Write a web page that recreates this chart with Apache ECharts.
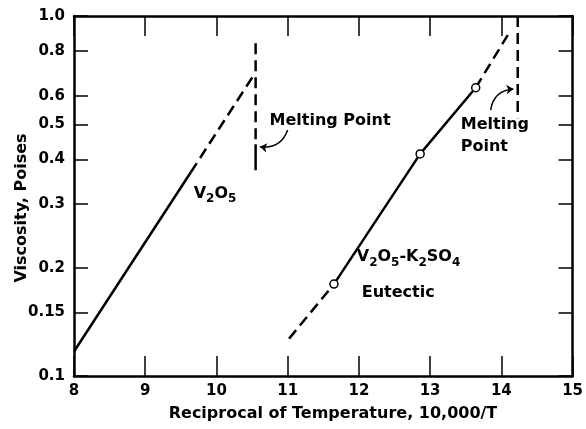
<!DOCTYPE html>
<html>
<head>
<meta charset="utf-8">
<script src="https://cdn.jsdelivr.net/npm/echarts@6/dist/echarts.min.js"></script>
<style>
  html, body { margin: 0; padding: 0; background: #fff; }
  #chart { width: 586px; height: 429px; }
</style>
</head>
<body>
<div id="chart"></div>
<script>
// axis ticks
const xMin = 8
const xMax = 15
const yTicks = [0.1, 0.15, 0.2, 0.3, 0.4, 0.5, 0.6, 0.8, 1.0]
const yLabels = ['0.1', '0.15', '0.2', '0.3', '0.4', '0.5', '0.6', '0.8', '1.0']

// V2O5: solid run, dashed run up to the melting point
const v2o5Solid = [[8, 0.117], [9.64, 0.368]]
const v2o5Dashed = [[9.64, 0.368], [10.54, 0.693]]
const v2o5MeltDashed = [[10.55, 0.84], [10.55, 0.44]]
const v2o5MeltSolid = [[10.55, 0.44], [10.55, 0.373]]

// V2O5-K2SO4 eutectic
const eutLowDashed = [[11.02, 0.127], [11.65, 0.18]]
const eutSolid = [[11.65, 0.18], [12.86, 0.414], [13.64, 0.632]]
const eutHighDashed = [[13.64, 0.632], [14.09, 0.885]]
const eutPoints = [[11.65, 0.18], [12.86, 0.414], [13.64, 0.632]]
const eutMelt = [[14.23, 1.0], [14.23, 0.52]]

// curved pointer arrows, [from, to]
const arrows = [
  [[11.0, 0.482], [10.61, 0.433]],
  [[13.85, 0.548], [14.17, 0.627]],
]

// text notes
const noteX = [9.68, 10.745, 13.43, 11.97, 12.04]
const noteY = [0.31, 0.511, 0.464, 0.2065, 0.1704]
const noteText = [
  '{n|V}{s|2}{n|O}{s|5}',
  'Melting Point',
  'Melting\nPoint',
  '{n|V}{s|2}{n|O}{s|5}{n|-K}{s|2}{n|SO}{s|4}',
  'Eutectic',
]

const font = 'DejaVu Sans'
const black = '#000'

function yLabel(v) {
  let best = 0
  yTicks.forEach((t, i) => { if (Math.abs(t - v) < Math.abs(yTicks[best] - v)) best = i })
  return yLabels[best]
}

function seg(data, dashed) {
  return {
    type: 'line', data, symbol: 'none', silent: true, z: 3,
    lineStyle: { color: black, width: 2.5, type: dashed ? [11, 6] : 'solid' },
  }
}

const chart = echarts.init(document.getElementById('chart'))

const xBase = {
  type: 'value', min: xMin, max: xMax, interval: 1,
  axisLine: { show: true, onZero: false, lineStyle: { color: black, width: 2.5 } },
  axisTick: { inside: true, length: 20, lineStyle: { color: black, width: 1.5 } },
  splitLine: { show: false },
}
const yBase = {
  type: 'log', logBase: 10, min: 0.1, max: 1,
  axisLine: { show: true, onZero: false, lineStyle: { color: black, width: 2.5 } },
  axisTick: { inside: true, length: 14, customValues: yTicks, lineStyle: { color: black, width: 1.5 } },
  minorTick: { show: false },
  splitLine: { show: false },
}

chart.setOption({
  animation: false,
  backgroundColor: '#fff',
  grid: { left: 74, right: 8, top: 16, bottom: 53 },
  xAxis: [
    { ...xBase, position: 'bottom',
      axisLabel: { color: black, fontSize: 15, fontWeight: 'bold', fontFamily: font, margin: 8 } },
    { ...xBase, position: 'top', axisLabel: { show: false } },
  ],
  yAxis: [
    { ...yBase, position: 'left',
      axisLabel: { customValues: yTicks, formatter: yLabel, color: black, fontSize: 15, fontWeight: 'bold', fontFamily: font, margin: 9 } },
    { ...yBase, position: 'right', axisLabel: { show: false } },
  ],
  graphic: [
    { type: 'text', x: 333, y: 414,
      style: { text: 'Reciprocal of Temperature, 10,000/T', fill: black, font: 'bold 16px ' + font, align: 'center', verticalAlign: 'middle' } },
    { type: 'text', x: 22, y: 208, rotation: Math.PI / 2,
      style: { text: 'Viscosity, Poises', fill: black, font: 'bold 16px ' + font, align: 'center', verticalAlign: 'middle' } },
  ],
  series: [
    seg(v2o5Solid, false),
    seg(v2o5Dashed, true),
    seg(v2o5MeltDashed, true),
    seg(v2o5MeltSolid, false),
    seg(eutLowDashed, true),
    seg(eutSolid, false),
    seg(eutHighDashed, true),
    seg(eutMelt, true),
    {
      type: 'scatter', data: eutPoints, symbol: 'circle', symbolSize: 8, z: 5, silent: true,
      itemStyle: { color: '#fff', borderColor: black, borderWidth: 1.5, opacity: 1 },
    },
    {
      type: 'lines', coordinateSystem: 'cartesian2d', silent: true, z: 4,
      data: arrows.map(a => ({ coords: a })),
      symbol: ['none', 'arrow'], symbolSize: 7,
      lineStyle: { color: black, width: 1.5, curveness: 0.4, opacity: 1 },
    },
    {
      type: 'scatter', symbolSize: 0, silent: true,
      itemStyle: { opacity: 1 },
      data: noteX.map((x, i) => ({ value: [x, noteY[i]], label: { formatter: noteText[i] } })),
      label: {
        show: true, position: 'right', distance: 0, color: black, fontSize: 16, fontWeight: 'bold', fontFamily: font, lineHeight: 22,
        rich: {
          n: { fontSize: 16, fontWeight: 'bold', fontFamily: font, color: black, lineHeight: 15, verticalAlign: 'top' },
          s: { fontSize: 12, fontWeight: 'bold', fontFamily: font, color: black, lineHeight: 27, verticalAlign: 'middle' },
        },
      },
    },
  ],
})
</script>
</body>
</html>
